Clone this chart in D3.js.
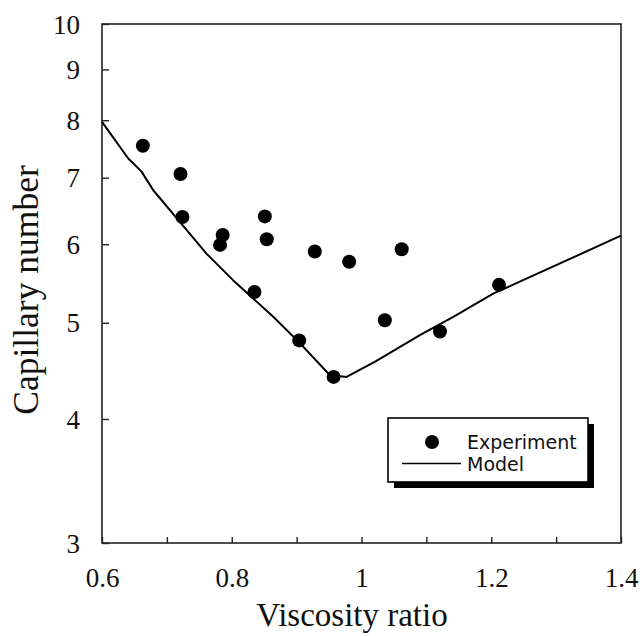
<!DOCTYPE html>
<html>
<head>
<meta charset="utf-8">
<script src="https://cdn.jsdelivr.net/npm/d3@7"></script>
<style>
  html, body { margin: 0; padding: 0; background: #fff; }
  svg { display: block; }
  .serif { font-family: "Liberation Serif", "Times New Roman", Times, serif; }
  .sans { font-family: "DejaVu Sans", Verdana, sans-serif; }
</style>
</head>
<body>
<svg id="chart" width="640" height="636"></svg>
<script>
// Measured droplet break-up points: viscosity ratio vs capillary number
const expViscosity = [0.663, 0.721, 0.724, 0.786, 0.782, 0.851, 0.854, 0.928, 0.981, 0.835, 0.904, 0.957, 1.062, 1.036, 1.121, 1.212];
const expCapillary = [7.54, 7.06, 6.39, 6.13, 5.99, 6.40, 6.07, 5.90, 5.76, 5.37, 4.80, 4.41, 5.93, 5.03, 4.90, 5.46];

// Model prediction curve
const modelViscosity = [0.6, 0.6405, 0.661, 0.679, 0.720, 0.761, 0.802, 0.864, 0.905, 0.951, 0.977, 1.021, 1.090, 1.1415, 1.203, 1.244, 1.4];
const modelCapillary = [7.97, 7.32, 7.10, 6.80, 6.32, 5.87, 5.52, 5.07, 4.77, 4.43, 4.41, 4.57, 4.86, 5.07, 5.35, 5.50, 6.12];

// Axis ticks
const xTicks = [0.6, 0.7, 0.8, 0.9, 1.0, 1.1, 1.2, 1.3, 1.4];
const xTickLabels = ["0.6", "", "0.8", "", "1", "", "1.2", "", "1.4"];
const yTicks = [3, 4, 5, 6, 7, 8, 9, 10];
const yTickLabels = ["3", "4", "5", "6", "7", "8", "9", "10"];

const legendLabels = ["Experiment", "Model"];

const svg = d3.select("#chart");
const L = 102, R = 621, T = 24, B = 543;

const x = d3.scaleLinear().domain([0.6, 1.4]).range([L, R]);
const y = d3.scaleLog().domain([3, 10]).range([B, T]);

const axisColor = "#222";

// Frame
svg.append("rect")
  .attr("x", L).attr("y", T).attr("width", R - L).attr("height", B - T)
  .attr("fill", "none").attr("stroke", axisColor).attr("stroke-width", 1.6);

// X axis: inward ticks
const xAxis = d3.axisBottom(x).tickValues(xTicks)
  .tickSizeInner(-6).tickSizeOuter(0)
  .tickFormat((d, i) => xTickLabels[i]);
const gx = svg.append("g").attr("transform", `translate(0,${B})`).call(xAxis);
gx.attr("font-family", null).attr("font-size", null).attr("class", "serif");
gx.select(".domain").remove();
gx.selectAll(".tick line").attr("stroke", axisColor).attr("stroke-width", 1.4);
gx.selectAll(".tick text")
  .attr("y", 44).attr("dy", null)
  .attr("font-size", 27).attr("fill", "#111");

// Y axis: inward ticks, log scale
const yAxis = d3.axisLeft(y).tickValues(yTicks)
  .tickSizeInner(-7).tickSizeOuter(0)
  .tickFormat((d, i) => yTickLabels[i]);
const gy = svg.append("g").attr("transform", `translate(${L},0)`).call(yAxis);
gy.attr("font-family", null).attr("font-size", null).attr("class", "serif");
gy.select(".domain").remove();
gy.selectAll(".tick line").attr("stroke", axisColor).attr("stroke-width", 1.4);
gy.selectAll(".tick text")
  .attr("x", -22).attr("dy", "0.34em")
  .attr("font-size", 27).attr("fill", "#111");

// Axis titles
svg.append("text").attr("class", "serif")
  .attr("x", 352).attr("y", 626)
  .attr("text-anchor", "middle")
  .attr("font-size", 33).attr("fill", "#111")
  .text("Viscosity ratio");

svg.append("text").attr("class", "serif")
  .attr("transform", `translate(38,290) rotate(-90)`)
  .attr("text-anchor", "middle")
  .attr("font-size", 35.5).attr("fill", "#111")
  .text("Capillary number");

// Model line
const modelPts = modelViscosity.map((v, i) => [v, modelCapillary[i]]);
svg.append("path")
  .datum(modelPts)
  .attr("fill", "none").attr("stroke", "#000").attr("stroke-width", 2)
  .attr("stroke-linejoin", "round")
  .attr("d", d3.line().x(d => x(d[0])).y(d => y(d[1])));

// Experimental points
const expPts = expViscosity.map((v, i) => [v, expCapillary[i]]);
svg.append("g").selectAll("circle")
  .data(expPts).join("circle")
  .attr("cx", d => x(d[0])).attr("cy", d => y(d[1]))
  .attr("r", 7).attr("fill", "#000");

// Legend with drop shadow
const lg = svg.append("g");
const bx = 388, by = 418, bw = 200, bh = 64, sh = 6;
lg.append("rect").attr("x", bx + sh).attr("y", by + sh).attr("width", bw).attr("height", bh).attr("fill", "#000");
lg.append("rect").attr("x", bx).attr("y", by).attr("width", bw).attr("height", bh)
  .attr("fill", "#fff").attr("stroke", "#000").attr("stroke-width", 1.6);
lg.append("circle").attr("cx", 432).attr("cy", 442).attr("r", 7).attr("fill", "#000");
lg.append("line").attr("x1", 402).attr("x2", 461).attr("y1", 463.5).attr("y2", 463.5)
  .attr("stroke", "#000").attr("stroke-width", 1.4);
lg.append("text").attr("class", "sans").attr("x", 467).attr("y", 449)
  .attr("font-size", 19).attr("fill", "#111")
  .text(legendLabels[0]);
lg.append("text").attr("class", "sans").attr("x", 467).attr("y", 471)
  .attr("font-size", 19).attr("fill", "#111")
  .text(legendLabels[1]);
</script>
</body>
</html>
